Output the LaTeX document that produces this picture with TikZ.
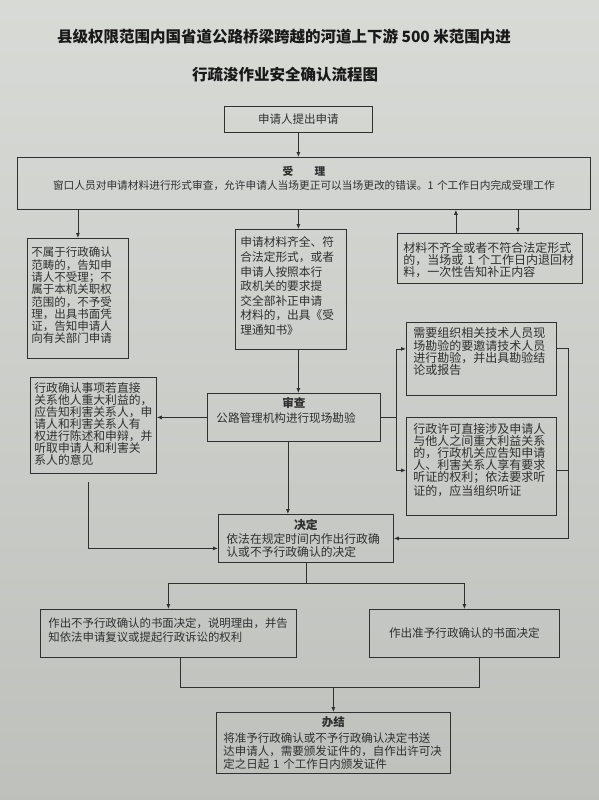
\documentclass[tikz,border=0pt]{standalone}
\usepackage{fontspec}
\setmainfont{Noto Sans CJK SC}
\usetikzlibrary{arrows.meta}
\definecolor{paper}{RGB}{206,209,204}
\definecolor{ink}{RGB}{48,48,48}

\begin{document}
\begin{tikzpicture}[x=1pt,y=-1pt,>={Latex[length=5pt,width=4pt]},
  conn/.style={draw=ink,line width=.8pt},
  box/.style={draw=ink,line width=.8pt,anchor=north west,inner xsep=5pt,inner ysep=0pt,align=left,text=ink},
  ttl/.style={font=\bfseries\fontsize{15.5}{18}\selectfont,text=black!90}]
\useasboundingbox(0,0)rectangle(599,800);
\shade[top color=paper!80!white,bottom color=paper!92!black](0,0)rectangle(599,800);
% title
\node[ttl](t1)at(284,37){县级权限范围内国省道公路桥梁跨越的河道上下游 500 米范围内进};
\node[ttl](t2)at(285,75){行疏浚作业安全确认流程图};
% boxes
\node[box,align=center,text width=138pt,text height=17.4pt,text depth=8.6pt,font=\fontsize{11.5}{13}\selectfont](b0)at(224,106){申请人提出申请};
\node[box,align=center,text width=563pt,text height=18.5pt,text depth=33.5pt,font=\fontsize{10.7}{14}\selectfont](acc)at(17,157){\textbf{受\hspace{2em}理}\\窗口人员对申请材料进行形式审查，允许申请人当场更正可以当场更改的错误。1 个工作日内完成受理工作};
\node[box,inner xsep=4pt,text width=93pt,text height=18.4pt,text depth=101.6pt,font=\fontsize{11.5}{12.3}\selectfont](no)at(27,238){不属于行政确认\\范畴的，告知申\\请人不受理；不\\属于本机关职权\\范围的，不予受\\理，出具书面凭\\证，告知申请人\\向有关部门申请};
\node[box,text width=101pt,text height=17.5pt,text depth=102.5pt,font=\fontsize{11.7}{14.6}\selectfont](ok)at(235,229){申请材料齐全、符\\合法定形式，或者\\申请人按照本行\\政机关的要求提\\交全部补正申请\\材料的，出具《受\\理通知书》};
\node[box,inner xsep=6pt,text width=173pt,text height=19.5pt,text depth=30.5pt,font=\fontsize{12}{12}\selectfont](back)at(397,233){材料不齐全或者不符合法定形式\\的，当场或 1 个工作日内退回材\\料，一次性告知补正内容};
\node[box,inner xsep=4pt,text width=118pt,text height=15.5pt,text depth=80.5pt,font=\fontsize{11.8}{12}\selectfont](tell)at(30,377){行政确认事项若直接\\关系他人重大利益的，\\应告知利害关系人，申\\请人和利害关系人有\\权进行陈述和申辩，并\\听取申请人和利害关\\系人的意见};
\node[box,inner xsep=9pt,text width=155pt,text height=14.4pt,text depth=33.6pt,font=\fontsize{11.6}{15}\selectfont](rev)at(207,393){\makebox[\linewidth]{\bfseries 审查}\\公路管理机构进行现场勘验};
\node[box,inner xsep=7pt,text width=136pt,text height=15.5pt,text depth=57.5pt,font=\fontsize{12}{12.3}\selectfont](tech)at(406,322){需要组织相关技术人员现\\场勘验的要邀请技术人员\\进行勘验，并出具勘验结\\论或报告};
\node[box,inner xsep=7pt,text width=136pt,text height=16.5pt,text depth=81.5pt,font=\fontsize{12}{12}\selectfont](hear)at(406,417){行政许可直接涉及申请人\\与他人之间重大利益关系\\的，行政机关应告知申请\\人、利害关系人享有要求\\听证的权利；依法要求听\\证的，应当组织听证};
\node[box,inner xsep=8pt,text width=159pt,text height=15.5pt,text depth=32.5pt,font=\fontsize{11.8}{13.5}\selectfont](dec)at(218,514){\makebox[\linewidth]{\bfseries 决定}\\依法在规定时间内作出行政确\\认或不予行政确认的决定};
\node[box,inner xsep=8pt,text width=240pt,text height=18.3pt,text depth=29.7pt,font=\fontsize{11.4}{14}\selectfont](ref)at(40,609){作出不予行政确认的书面决定，说明理由，并告\\知依法申请复议或提起行政诉讼的权利};
\node[box,align=center,inner xsep=8pt,text width=174pt,text height=28.4pt,text depth=19.6pt,font=\fontsize{11.6}{14}\selectfont](gra)at(369,609){作出准予行政确认的书面决定};
\node[box,inner xsep=7pt,text width=220pt,text height=14.4pt,text depth=46.6pt,font=\fontsize{11.5}{13}\selectfont](fin)at(216,712){\makebox[\linewidth]{\bfseries 办结}\\[3pt]将准予行政确认或不予行政确认决定书送\\达申请人，需要颁发证件的，自作出许可决\\定之日起 1 个工作日内颁发证件};
% connectors
\draw[conn,->](b0.south)--(b0.south|-acc.north);
\draw[conn,->](b0.south|-acc.south)--(b0.south|-ok.north);
\draw[conn,->](no.north|-acc.south)--(no.north);
\draw[conn,->]([xshift=-34pt]back.north)--([xshift=-34pt]back.north|-acc.south);
\draw[conn,->]([xshift=28pt]back.north|-acc.south)--([xshift=28pt]back.north);
\draw[conn,->](b0.south|-ok.south)--(b0.south|-rev.north);
\draw[conn,->](rev.west)--(rev.west-|tell.east);
\draw[conn](rev.east)--++(16,0)coordinate(sp);
\draw[conn,->](sp)|-([yshift=10pt]tech.west);
\draw[conn,->](sp)|-([yshift=-4pt]hear.west);
\draw[conn,->]([yshift=11pt]tech.east)--++(12,0)|-(dec.east);
\draw[conn]([yshift=-4pt]hear.east)--++(12,0);
\draw[conn,->,shorten <=8pt]([xshift=-5pt]tell.south)|-([yshift=-10pt]dec.west);
\draw[conn,->]([xshift=-6pt]rev.south)--([xshift=-6pt]rev.south|-dec.north);
\draw[conn](dec.south)--++(0,21)coordinate(d1);
\draw[conn,->](d1)-|(ref.north);
\draw[conn,->](d1)-|(gra.north);
\draw[conn]([xshift=12pt]ref.south)--++(0,30)coordinate(m1)-|([xshift=15pt]gra.south);
\draw[conn,->](m1-|fin.north)--(fin.north);
\end{tikzpicture}
\end{document}
